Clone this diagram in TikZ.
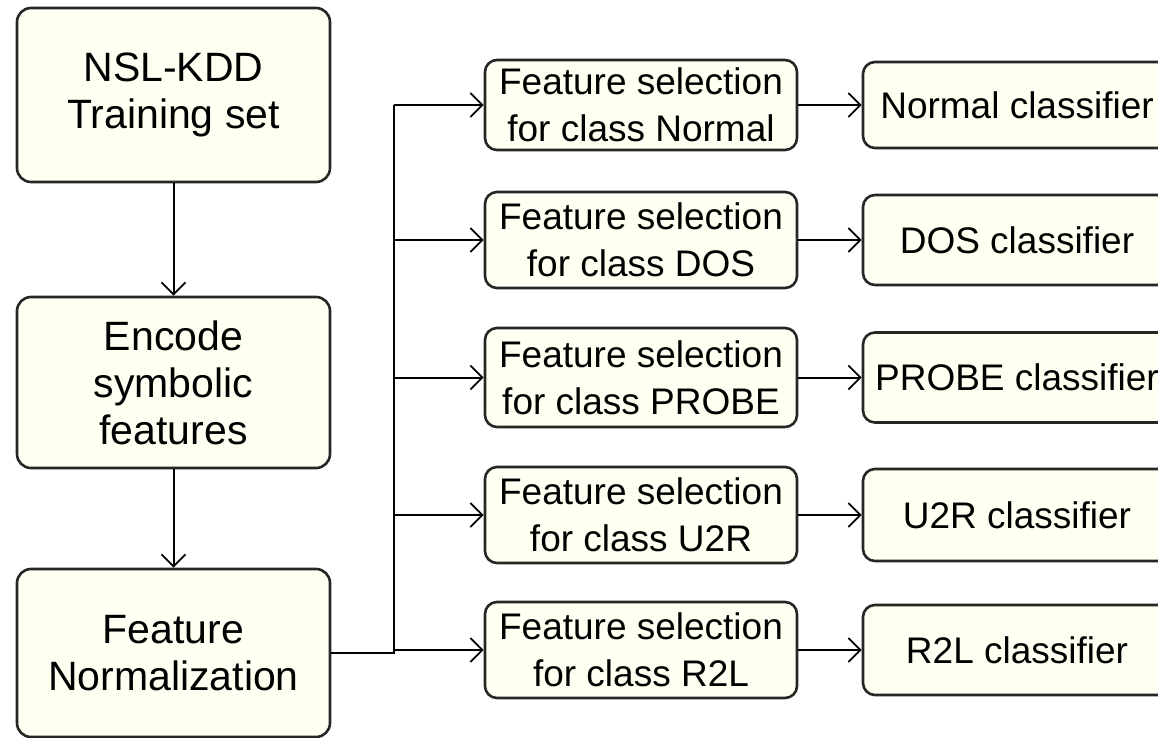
\documentclass[tikz,border=0pt]{standalone}
\usepackage{fontspec}
\setmainfont{Liberation Sans}
\usetikzlibrary{arrows.meta}
\definecolor{boxfill}{RGB}{255,255,242}
\begin{document}
\begin{tikzpicture}[x=0.5pt,y=-0.5pt,
 box/.style={draw=black!85, line width=1.3pt, fill=boxfill, rounded corners=7pt, inner sep=0pt, align=center},
 big/.style={box, minimum width=156.5pt, font=\fontsize{20.5}{23.5}\selectfont},
 sel/.style={box, minimum width=156pt, minimum height=48pt, font=\fontsize{18.5}{23.5}\selectfont, rounded corners=6pt},
 cls/.style={box, minimum width=154pt, minimum height=45pt, font=\fontsize{18.5}{22}\selectfont, rounded corners=6pt},
 conn/.style={draw=black, line width=1pt},
 arr/.style={conn, -{Straight Barb[length=6pt,width=12pt,line width=0.9pt]}}]
\useasboundingbox (0,0) rectangle (1158,738);
\clip (0,0) rectangle (1158,738);
% left column
\node[big, minimum height=87pt] (nsl) at (173.5,95) {NSL-KDD\\Training set};
\node[big, minimum height=85.5pt] (enc) at (173.5,382.5) {Encode\\symbolic\\features};
\node[big, minimum height=84pt] (norm) at (173.5,653) {Feature\\Normalization};
% feature selection column
\node[sel, minimum height=45pt] (fs1) at (641,105) {Feature selection\\for class Normal};
\node[sel] (fs2) at (641,240) {Feature selection\\for class DOS};
\node[sel, minimum height=49.5pt] (fs3) at (641,377.5) {Feature selection\\for class PROBE};
\node[sel] (fs4) at (641,515) {Feature selection\\for class U2R};
\node[sel] (fs5) at (641,650) {Feature selection\\for class R2L};
% classifier column
\node[cls, minimum height=43pt] (c1) at (1017,105) {Normal classifier};
\node[cls] (c2) at (1017,240) {DOS classifier};
\node[cls] (c3) at (1017,377.5) {PROBE classifier};
\node[cls, minimum height=46pt] (c4) at (1017,515) {U2R classifier};
\node[cls] (c5) at (1017,650) {R2L classifier};
% connectors
\coordinate (j) at (394,0);
\draw[arr] (nsl) -- (enc);
\draw[arr] (enc) -- (norm);
\draw[conn] (norm.east) -- (norm.east -| j) -- (j |- fs1.west);
\foreach \i in {1,...,5}{
  \draw[arr] (j |- fs\i.west) -- (fs\i.west);
  \draw[arr] (fs\i.east) -- (c\i.west);
}
\end{tikzpicture}
\end{document}
